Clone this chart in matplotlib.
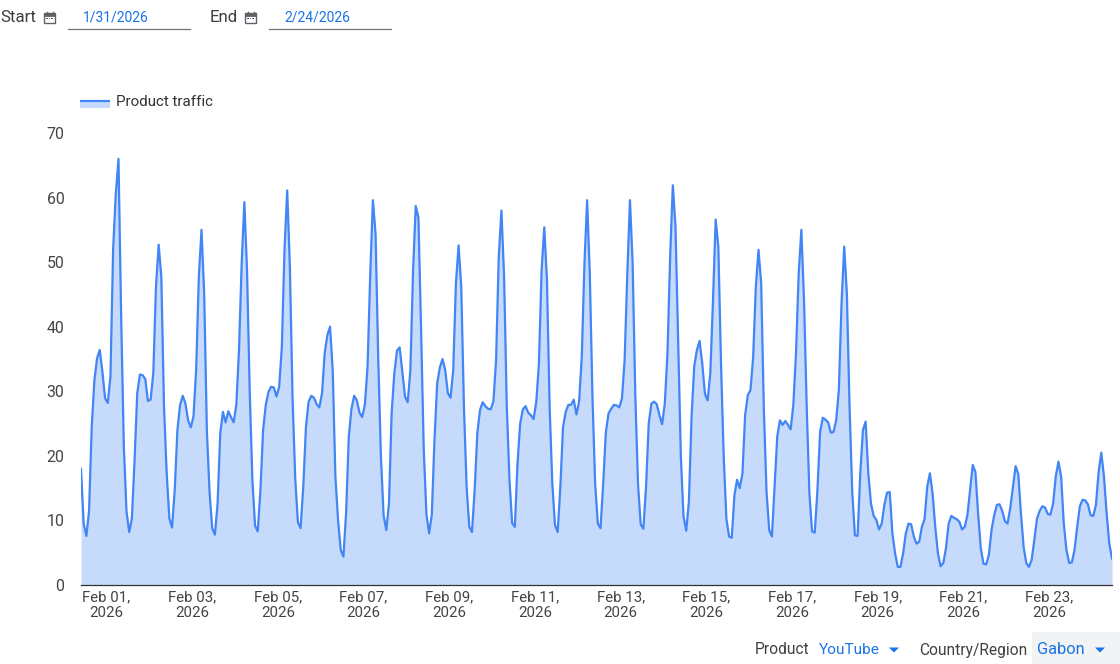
import matplotlib
matplotlib.use("Agg")
import matplotlib.pyplot as plt
import pandas as pd
from matplotlib.patches import Rectangle, FancyBboxPatch, Polygon

plt.rcParams['font.family'] = ['Roboto', 'DejaVu Sans']

traffic_week1 = [18, 9.5, 7.6, 11.4, 24.5, 31.7, 35.1, 36.4, 33, 28.9, 28.2, 32.3, 52, 60.6, 66, 41.5,
                 21.4, 11.4, 8.2, 10.3, 19.3, 29.7, 32.6, 32.5, 31.9, 28.5, 28.7, 32.8, 46.2, 52.7, 47.7, 27.6,
                 17.3, 10.3, 8.9, 14.7, 24, 27.9, 29.3, 28.1, 25.5, 24.4, 26.1, 33.3, 47.7, 55, 45.1, 24,
                 14.4, 8.8, 7.8, 12.6, 23.5, 26.8, 25.2, 26.9, 26, 25.2, 27.9, 36.4, 49.8, 59.3, 48.8, 30,
                 16.3, 9.2, 8.3, 14.7, 24, 27.9, 29.9, 30.7, 30.6, 29.2, 30.7, 36.9, 52, 61.1, 49.3, 29,
                 16.5, 9.7, 8.8, 15.2, 24.5, 28.4, 29.3, 29, 28, 27.5, 29.7, 35.9, 38.7, 40, 33.3, 16.8]
traffic_week2 = [10, 5.4, 4.4, 11.2, 23, 27.3, 29.3, 28.6, 26.7, 26, 27.9, 33.8, 48, 59.6, 54.4, 35,
                 19.9, 10.8, 8.5, 12.6, 26.6, 32.8, 36.3, 36.8, 33, 29.2, 28.3, 33.3, 48.7, 58.7, 56.9, 39.5,
                 20.9, 10.9, 8, 10.9, 22.5, 31.2, 33.7, 35, 33.3, 29.7, 29, 33.3, 46.7, 52.6, 46.2, 27.6,
                 15.2, 9, 8.2, 14.7, 23.5, 27.1, 28.3, 27.7, 27.3, 27.2, 28.4, 34.8, 50.8, 58, 47.7, 27.6,
                 16.3, 9.6, 9, 18.8, 25, 27.2, 27.7, 26.7, 26.3, 25.7, 28.3, 34.3, 48.8, 55.4, 47.2, 27.6,
                 15.7, 9.3, 8.2, 15.2, 24.5, 26.8, 27.9, 27.9, 28.7, 26.4, 28.4, 35.3, 49.8, 59.6, 48.2, 29.1]
traffic_week3 = [15.7, 9.5, 8.8, 15.7, 23.7, 26.6, 27.3, 27.9, 27.8, 27.5, 28.9, 34.8, 48.2, 59.6, 49.8, 29.2,
                 15.7, 9.4, 8.7, 15.2, 25, 28.1, 28.4, 28, 26.3, 24.9, 28.1, 35.9, 50.8, 61.9, 55.5, 37.4,
                 19.9, 10.6, 8.4, 12.9, 26.1, 33.9, 36.4, 37.8, 34.3, 29.6, 28.6, 32.8, 44.1, 56.6, 52.4, 34.3,
                 19.9, 10.3, 7.5, 7.3, 13.9, 16.3, 15, 17.3, 26.3, 29.4, 30.2, 35.3, 46.2, 51.9, 46.7, 27.1,
                 14.4, 8.5, 7.5, 15.2, 23, 25.5, 24.8, 25.4, 24.8, 24.1, 27.9, 35.9, 48.2, 55, 44.1, 27.6,
                 14.2, 8.3, 8.1, 14.7, 23.7, 25.9, 25.6, 25.2, 23.6, 23.7, 25.5, 30.2, 43.6, 52.4, 45.1, 27.6,
                 14.4, 7.7, 7.6]
traffic_week4 = [17.3, 24, 25.3, 17.3, 12.6, 10.7, 10.1, 8.6, 9.5, 12.4, 14.3, 14.4, 8, 4.9, 2.8, 2.8,
                 4.9, 8, 9.5, 9.4, 7.5, 6.4, 6.7, 9, 10.2, 15.2, 17.3, 14.2, 9, 4.9, 2.9, 3.4,
                 5.7, 9.5, 10.7, 10.4, 10.2, 9.8, 8.6, 9, 10.8, 14.7, 18.6, 17.5, 11.1, 5.7, 3.3, 3.2,
                 4.6, 8.5, 10.8, 12.4, 12.5, 11.5, 9.9, 9.5, 11.9, 15.2, 18.4, 17.2, 11.1, 5.9, 3.4, 2.8,
                 3.9, 7, 10.3, 11.5, 12.2, 12, 11, 10.9, 12.6, 16.8, 19.1, 16.8, 9.5, 5.4, 3.4, 3.5,
                 5.4, 9, 12.2, 13.2, 13.1, 12.5, 10.8, 10.7, 12.4, 17.5, 20.5, 16.8, 11.1, 6.4, 4.1]
traffic = traffic_week1 + traffic_week2 + traffic_week3 + traffic_week4

times = pd.date_range("2026-01-31 09:45", periods=len(traffic), freq="90min")
tick_dates = pd.date_range("2026-02-01", "2026-02-23", freq="2D")
tick_labels = [d.strftime("%b %d,\n%Y") for d in tick_dates]
y_ticks = [0, 10, 20, 30, 40, 50, 60, 70]
series_name = "Product traffic"
start_label, end_label = "1/31/2026", "2/24/2026"
product, region = "YouTube", "Gabon"

BLUE, FILL, UI_BLUE, GREY = "#4285f4", "#c6dafc", "#1a73e8", "#3c4043"
W, H = 1120, 664

fig = plt.figure(figsize=(W / 100, H / 100), dpi=100, facecolor="white")
ax = fig.add_axes([81 / W, (H - 585) / H, 1031 / W, (585 - 133) / H])
ax.fill_between(times, traffic, 0, color=FILL, lw=0)
ax.plot(times, traffic, color=BLUE, lw=1.6, solid_joinstyle="round")
ax.set_xlim(times[0], times[-1])
ax.set_ylim(0, 70)
ax.set_yticks(y_ticks)
ax.set_xticks(tick_dates, tick_labels)
ax.tick_params(axis="x", length=0, labelsize=10.8, labelcolor="#444444", pad=3.5)
ax.tick_params(axis="y", length=0, labelsize=11.4, labelcolor="#444444", pad=12)
for lab in ax.get_xticklabels():
    lab.set_linespacing(1.2)
for s in ("top", "right", "left"):
    ax.spines[s].set_visible(False)
ax.spines["bottom"].set_color("#333333")
ax.spines["bottom"].set_linewidth(0.9)

ui = fig.add_axes([0, 0, 1, 1], facecolor="none")
ui.set_xlim(0, W)
ui.set_ylim(H, 0)
ui.axis("off")


def label(x, y, s, color=GREY, size=10.6, ha="left", weight="normal"):
    ui.text(x, y, s, color=color, fontsize=size, ha=ha, va="center", fontweight=weight)


def calendar(x, y):
    ui.add_patch(Rectangle((x, y + 1), 11, 10, fc="none", ec="#5f6368", lw=1))
    ui.add_patch(Rectangle((x, y + 1), 11, 3, fc="#5f6368", ec="#5f6368", lw=0.6))
    ui.plot([x + 2.5, x + 2.5], [y - 0.5, y + 2], color="#5f6368", lw=1)
    ui.plot([x + 8.5, x + 8.5], [y - 0.5, y + 2], color="#5f6368", lw=1)
    for dx in (3, 5.5, 8):
        ui.add_patch(Rectangle((x + dx - 0.6, y + 6), 1.2, 1.2, fc="#5f6368", lw=0))


def caret(x, y):
    ui.add_patch(Polygon([(x - 5, y - 2.5), (x + 5, y - 2.5), (x, y + 2.5)], fc=UI_BLUE, lw=0))


label(0, 17.5, "Start", size=12.2)
calendar(44, 12)
label(116, 18, start_label, UI_BLUE, ha="center", size=10.0)
ui.plot([68, 189.5], [29, 29], color="#70757a", lw=0.9)
label(210, 17.5, "End", size=12.2)
calendar(245, 12)
label(317, 18, end_label, UI_BLUE, ha="center", size=10.0)
ui.plot([269, 390.5], [29, 29], color="#70757a", lw=0.9)

ui.add_patch(Rectangle((80, 100), 30, 8, fc=FILL, lw=0))
ui.plot([80, 110], [100.5, 100.5], color=BLUE, lw=1.6, solid_capstyle="butt")
label(116, 101.5, series_name, "#333333", size=10.9)

ui.add_patch(FancyBboxPatch((1032, 632), 92, 36, boxstyle="round,pad=0,rounding_size=3",
                            fc="#f1f3f4", lw=0, mutation_aspect=1))
ui.set_xlim(0, W)
ui.set_ylim(H, 0)
label(755, 650, "Product", size=11.2)
label(819, 650, product, UI_BLUE, size=11.1)
caret(894, 650)
label(919, 650, "Country/Region", size=11.2)
label(1037, 650, region, UI_BLUE, size=11.8)
caret(1100, 650)

fig.savefig("out.png", dpi=100)
